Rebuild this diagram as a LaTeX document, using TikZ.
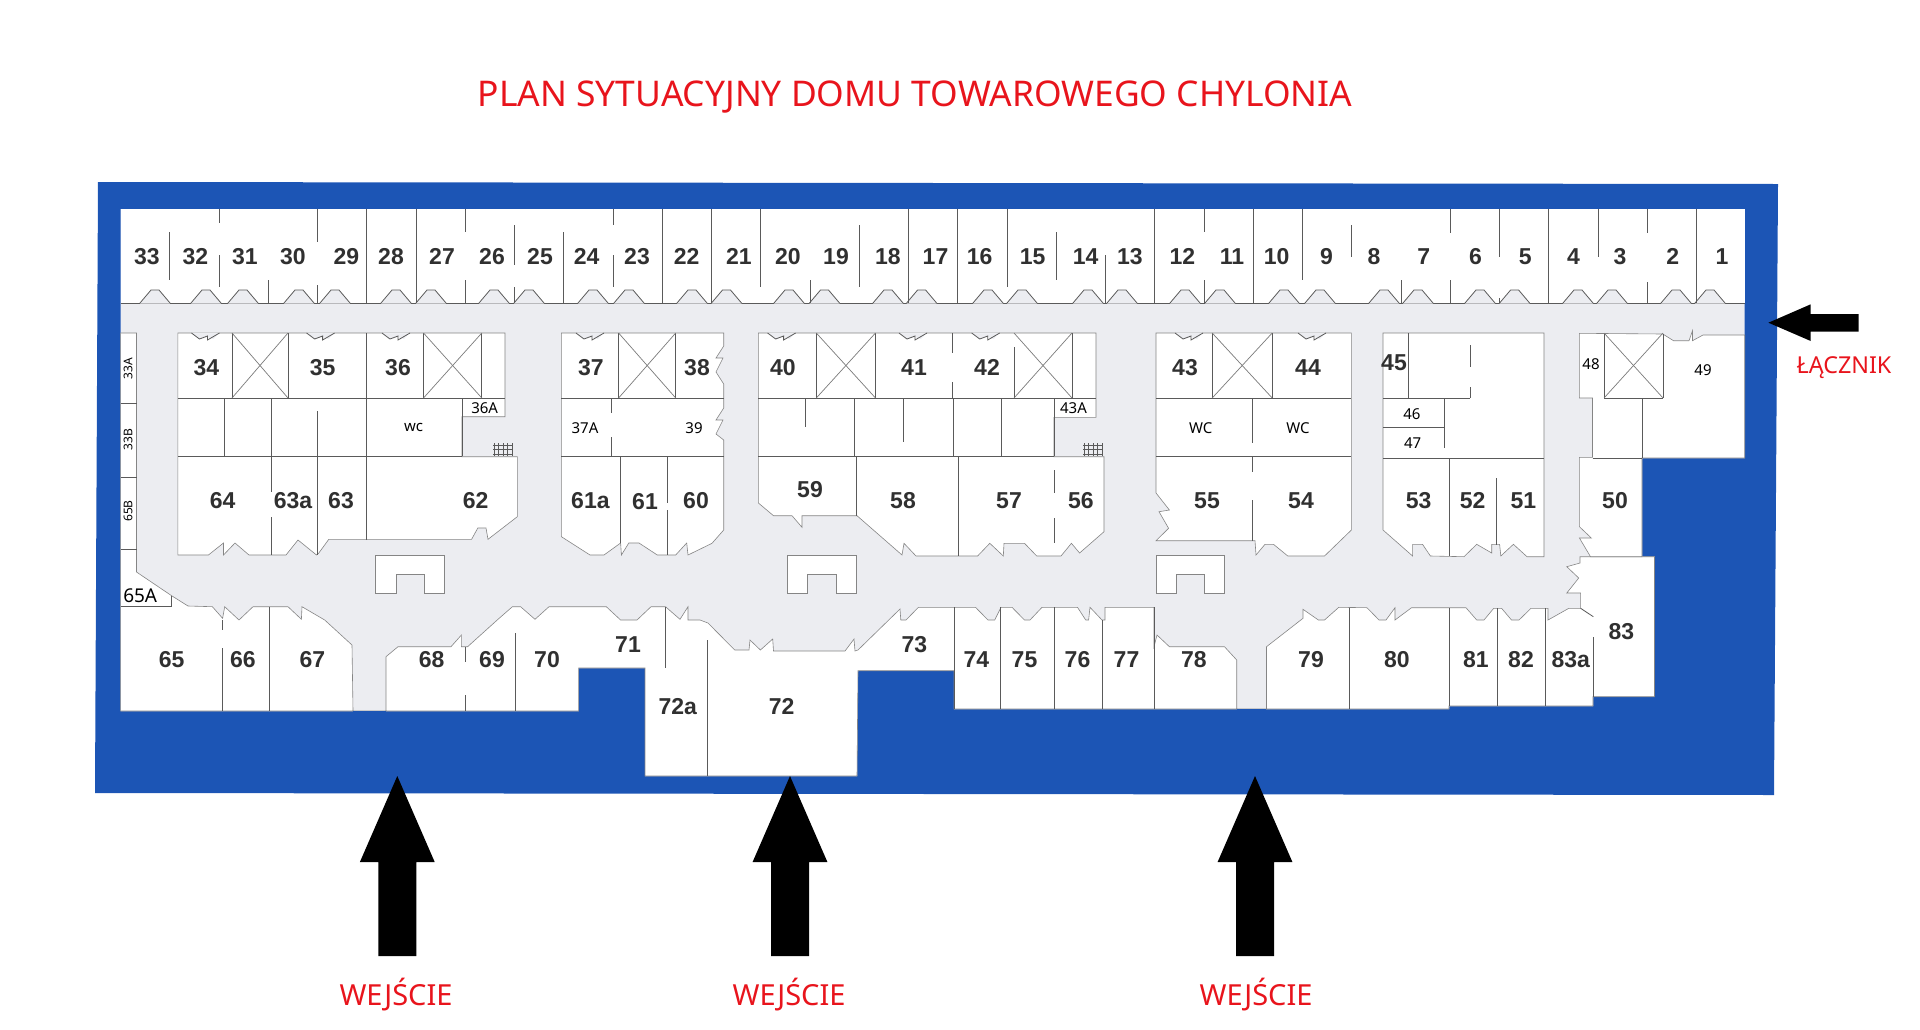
\documentclass[tikz,border=0pt]{standalone}
\usepackage{fontspec}
\setmainfont{Noto Sans}
\newfontfamily\numfont{Liberation Sans}[BoldFont={Liberation Sans Bold}]
\definecolor{bluewall}{HTML}{1C55B5}
\definecolor{corridor}{HTML}{ECEDF1}
\definecolor{wallgrey}{HTML}{5A5A5A}
\definecolor{edgegrey}{HTML}{858585}
\definecolor{numgrey}{HTML}{303030}
\definecolor{redlabel}{HTML}{E8141C}
\tikzset{
    room/.style={fill=white,draw=edgegrey,line width=0.6pt},
    wall/.style={draw=wallgrey,line width=0.8pt},
    crossline/.style={draw=wallgrey!80,line width=0.7pt},
    roomnum/.style={font=\numfont\bfseries\fontsize{23}{23}\selectfont,text=numgrey,inner sep=0pt},
    smalllabel/.style={font=\fontsize{15}{15}\selectfont,text=black,inner sep=0pt},
    sidelabel/.style={font=\fontsize{12}{12}\selectfont,text=black,inner sep=0pt,rotate=90},
    redtext/.style={font=\fontsize{29}{29}\selectfont,text=redlabel,inner sep=0pt},
    blackarrow/.style={fill=black}
}
\begin{document}
\begin{tikzpicture}[x=1pt,y=-1pt]
    \useasboundingbox (0,0) rectangle (1920,1029);

    % outer band and floor
    \fill[bluewall] (98,182) -- (1778,184) -- (1774,795) -- (95,793) -- cycle;
    \fill[corridor] (120.6,209) -- (1744.7,209) -- (1744.7,458) -- (1642,458) -- (1642,556.7) -- (1654.5,556.7) -- (1654.5,696.7) -- (1593,696.7) -- (1593,706) -- (1449,706) -- (1449,709) -- (954,709) -- (954,670.7) -- (858,670.7) -- (857,776) -- (645,776) -- (645,668) -- (578.6,668) -- (578.6,711) -- (120.6,711) -- cycle;

    % top row of shops
    \fill[white] (120.6,209) rectangle (1744.7,303);
    \draw[wall] (120.6,303) -- (1744.7,303);
    \foreach \bx in {155,206,243,299,335,396,431,494,529,593,629,692,726.5,789,824.5,888,921.6,988,1022,1088,1122,1185,1220,1284,1320,1384,1418,1480,1514.6,1578,1612,1676,1710} {
        \fill[corridor] (\bx-15,303.5) -- (\bx-4,290) -- (\bx+4,290) -- (\bx+15,303.5) -- cycle;
        \draw[wall] (\bx-15,303) -- (\bx-4,290) -- (\bx+4,290) -- (\bx+15,303);
    }
    \foreach \k/\ya/\yb in {1/232/280,2/209/223,2/255/287,3/280/303,4/209/242,4/285/303,5/209/303,6/209/303,7/209/232,7/280/303,8/225/265,8/287/303,9/232/303,10/209/225,10/255/287,11/209/303,12/209/303,13/209/287,14/280/303,15/225/287,16/209/303,17/209/303,18/209/287,19/232/280,20/255/303,21/209/303,22/209/232,22/280/303,23/209/303,24/209/280,25/225/257,26/280/303,27/209/233,27/280/303,28/209/257,28/298/303,29/209/303,30/209/257,31/209/233,31/282/303,32/209/303} {
        \draw[wall] ({120.6+49.25*\k},\ya) -- ({120.6+49.25*\k},\yb);
    }

    % bottom row, with the left strip
    \path[room] (120.6,711) -- (120.6,333) -- (136.5,333) -- (136.5,572) -- (171.6,595.7) -- (188,606) -- (212.4,606.7) -- (222.6,618.3) -- (224.7,606.7) -- (239,620) -- (253,606.7) -- (288,606.7) -- (301.4,619.3) -- (302,606.7) -- (324.7,620) -- (352,645) -- (353,711) -- (386,711) -- (386,656.7) -- (398,646.7) -- (451,646.7) -- (461.4,635) -- (461.4,646.7) -- (467.6,646.7) -- (498,619.3) -- (512.4,606.7) -- (520.6,606.7) -- (535,619.3) -- (549,606.7) -- (606.3,606.7) -- (620.6,620) -- (637,620) -- (651,606.7) -- (665.5,606.7) -- (680,619.3) -- (688,606.7) -- (688,620) -- (700,620) -- (708,623) -- (734.7,650) -- (749,650) -- (750,640) -- (760.4,650) -- (772.7,639) -- (773.5,651) -- (845,651) -- (854,639) -- (855,651) -- (858,650) -- (900,609) -- (900.8,620) -- (906,620) -- (918.4,607.3) -- (975.5,607.3) -- (988,620) -- (994.7,620) -- (1001,607.3) -- (1012,607.3) -- (1024.5,620) -- (1030,620) -- (1042,607.3) -- (1077.5,607.3) -- (1085.7,620) -- (1088.6,620) -- (1090,607.3) -- (1102,620) -- (1105,620) -- (1105,607.3) -- (1154,607.3) -- (1154,646.7) -- (1157,635) -- (1169.4,646.7) -- (1224.5,646.7) -- (1236.7,660) -- (1236.7,709) -- (1266.5,709) -- (1266.5,646.7) -- (1303,618.3) -- (1303,609.3) -- (1318.4,620) -- (1324.5,620) -- (1338.8,607.3) -- (1367,607.7) -- (1379,620) -- (1386,620) -- (1395,607.7) -- (1395,620) -- (1411.5,607.7) -- (1466,607.7) -- (1476.7,620) -- (1484,620) -- (1493.7,608.3) -- (1501.6,608.3) -- (1511.5,620) -- (1519,620) -- (1531,608.3) -- (1548,608.3) -- (1548,620) -- (1568.8,608.3) -- (1580.6,608.3) -- (1580.6,593) -- (1566.8,593) -- (1578.7,578) -- (1566.8,566.7) -- (1580,563) -- (1580,556.7) -- (1654.5,556.7) -- (1654.5,696.7) -- (1593,696.7) -- (1593,706) -- (1449,706) -- (1449,709) -- (954,709) -- (954,670.7) -- (858,670.7) -- (857,776) -- (645,776) -- (645,668) -- (578.6,668) -- (578.6,711) -- cycle;
    \draw[bluewall,line width=1pt] (353.4,711.5) -- (385.6,711.5);
    \draw[bluewall,line width=1pt] (1237.1,709.5) -- (1266.1,709.5);

    % blocks between the corridors
    \path[room] (177.8,333) -- (505,333) -- (505,416.7) -- (462,416.7) -- (462,456.7) -- (517.3,456.7) -- (517.3,516.7) -- (488,539.3) -- (486,528) -- (477.8,528) -- (471.6,539.3) -- (328.8,539.3) -- (318.6,553.3) -- (316.5,555) -- (298,540) -- (286,555) -- (249,555) -- (235,543) -- (223.5,555) -- (223.5,543) -- (208.4,555) -- (177.8,555) -- cycle;
    \path[room] (561.4,333) -- (723.7,333) -- (723.7,346) -- (716,358) -- (723,358) -- (716,372) -- (723.7,384) -- (723.7,408) -- (716,420) -- (723,420) -- (716,434) -- (723.7,440) -- (723.7,530) -- (712,543.3) -- (688,555) -- (686.7,543) -- (675.7,555) -- (657.3,555) -- (639,543) -- (628.8,543) -- (621.4,555) -- (620.6,543) -- (604,555) -- (590,555) -- (561.4,536.7) -- cycle;
    \path[room] (758.4,333) -- (1096,333) -- (1096,417.3) -- (1054,417.3) -- (1054,456.7) -- (1104,456.7) -- (1104,531.7) -- (1079.6,553) -- (1071.4,543.3) -- (1061,556) -- (1036.7,556) -- (1024.5,543.3) -- (1004,543.3) -- (1003.3,556) -- (989.8,543.3) -- (977.6,556) -- (916,556) -- (904,543.3) -- (902,555) -- (857,515.7) -- (802,515.7) -- (802,527.3) -- (792,515.7) -- (773.5,515.7) -- (758.4,503) -- cycle;
    \path[room] (1156,333) -- (1351.4,333) -- (1351.4,530) -- (1324.5,556) -- (1287.8,556) -- (1273.5,544.3) -- (1265,544.3) -- (1256,555) -- (1255,540.7) -- (1156,540.7) -- (1168.6,528.3) -- (1159,511.7) -- (1169.4,510) -- (1156,493) -- cycle;
    \path[room] (1383,333) -- (1544,333) -- (1544,556.7) -- (1527,556.7) -- (1513.4,544.3) -- (1500.8,556) -- (1499.6,544.3) -- (1491.7,544.3) -- (1491.7,553) -- (1476.7,544.3) -- (1464,556.7) -- (1430.4,556) -- (1422.5,544.3) -- (1412.6,544.3) -- (1412.6,556) -- (1383,530) -- cycle;
    \path[room] (1579.4,333.3) -- (1662.8,334) -- (1673.5,340.7) -- (1689,340.7) -- (1692.5,330.7) -- (1692.5,340.7) -- (1703,335) -- (1744.7,335) -- (1744.7,458) -- (1642,458) -- (1642,556.7) -- (1590.5,556.7) -- (1579.4,538) -- (1591.3,538) -- (1579.4,526.7) -- (1579.4,457.3) -- (1592.5,457.3) -- (1592.5,398) -- (1579.4,398) -- cycle;

    % kiosks
    \foreach \xa/\xb/\xc/\xd in {374.9/396.1/423.9/444.3,787/807.3/836/856.3,1156/1176.3/1204/1224.5} {
        \path[room] (\xa,555.5) -- (\xd,555.5) -- (\xd,593) -- (\xc,593) -- (\xc,574.5) -- (\xb,574.5) -- (\xb,593) -- (\xa,593) -- cycle;
    }

    % small door dents on the block tops
    \foreach \dx in {205.5,320.6,396,590,781.6,913,985.7,1189,1312} {
        \fill[corridor] (\dx-14,332.5) -- (\dx-6,339) -- (\dx+2,337) -- (\dx+8,339) -- (\dx+14,332.5) -- cycle;
        \draw[wall] (\dx-14,333) -- (\dx-6,339) -- (\dx+2,336) -- (\dx+2,340) -- (\dx+14,333);
    }

    % walls
    \foreach \xw/\ya/\yb in {222.2/620/630,222.2/648/711,269.6/607/711,465.5/647/662,465.5/695/711,515.7/633/711,665.5/607/668,707.5/640/776,954/607/709,1000.8/607/709,1053.9/607/709,1102/620/709,1153.9/607/709,1349.4/608/709,1449/608/706,1497.6/608/706,1545/608/706,1593.3/637/697,
        232/333/398,288/333/398,366.3/333/456,423.5/333/398,481.8/333/398,223.9/398/456,271/398/456,317.8/411/456,462/398/456,271/457/492,271/517/555,317.8/457/555,366.3/457/540,
        618.6/333/398,675.7/333/398,611.6/398/413,611.6/437/456,620.6/457/543,667.6/457/503,667.6/510/555,
        816.3/333/398,875.5/333/398,952/333/353,952/382/398,1014/347/398,1072/333/398,805/398/427,854/398/456,903/398/442,953/398/456,1001/398/456,1054/398/456,856/457/516,958/457/556,1054/470/493,1054/518/543,
        1212.2/333/398,1272.2/333/398,1252/398/443,1252/457/472,1252/500/541,
        1408.7/333/398,1470/345/367,1470/387/398,1444.3/398/448,1449.4/458/556,1496.8/478/545,
        1604/334/398,1663/334/398,1642/398/458} {
        \draw[wall] (\xw,\ya) -- (\xw,\yb);
    }
    \foreach \yw/\xa/\xb in {403/120.6/136.5,477/120.6/136.5,549/120.6/136.5,606.7/120.6/171.6,398/177.8/505,456.7/177.8/462,398/561.4/723.7,456.7/561.4/723.7,398/758.4/1096,456.7/758.4/1054,398/1156/1351.4,456.7/1156/1351.4,398/1383/1470,427/1383/1444.3,458/1383/1544,398/1604/1663,458/1592.5/1642} {
        \draw[wall] (\xa,\yw) -- (\xb,\yw);
    }
    \draw[wall] (171.6,595.7) -- (171.6,606.7);
    \draw[wall] (1580.6,608.3) -- (1593.3,616.7);

    % crossed stair wells
    \foreach \xa/\xb in {232/288,423.5/481.8,618.6/675.7,816.3/875.5,1014/1072,1212.2/1272.2,1604/1663} {
        \draw[crossline] (\xa,333) -- (\xb,398);
        \draw[crossline] (\xb,333) -- (\xa,398);
    }

    % little grates
    \foreach \gx in {494,1084} {
        \foreach \i in {0,...,4} {
            \draw[wall,line width=0.4pt] (\gx+\i*4.5,443) -- (\gx+\i*4.5,456);
        }
        \foreach \i in {0,1,2} {
            \draw[wall,line width=0.4pt] (\gx-1,445+\i*4.5) -- (\gx+19,445+\i*4.5);
        }
    }

    % room numbers
    \begin{scope}[every node/.style={roomnum}]
        \foreach \num/\nx in {33/147,32/195.3,31/245,30/293,29/346.3,28/391,27/442,26/492,25/540,24/586.7,23/637,22/686.7,21/738.8,20/787.8,19/836,18/887.8,17/935.5,16/979.6,15/1032.7,14/1085.7,13/1129.8,12/1182.4,11/1232,10/1276.7,9/1326.5,8/1374,7/1423.7,6/1475.5,5/1525.3,4/1573.5,3/1620,2/1672.7,1/1722} {
            \node (r\num) at (\nx,256.5) {\num};
        }
        \foreach \num/\nx in {34/206.3,35/322.7,36/398,37/590.8,38/697,40/782.9,41/914,42/987,43/1185,44/1308} {
            \node (r\num) at (\nx,367.3) {\num};
        }
        \node (r45) at (1394,363) {45};
        \foreach \num/\nx in {64/222.7,63a/293,63/341,62/475.7,61a/590.4,60/696,58/903,57/1009,56/1080.8,55/1207,54/1301,53/1418.6,52/1472.7,51/1523.3,50/1615} {
            \node (r\num) at (\nx,500.3) {\num};
        }
        \node (r61) at (645,501.7) {61};
        \node (r59) at (810,489.3) {59};
        \foreach \num/\nx in {65/171.6,66/243,67/312.4,68/431.6,69/492,70/547,74/976.3,75/1024.5,76/1077.5,77/1126.5,78/1193.9,79/1311,80/1396.8,81/1475.9,82/1521,83a/1570.8} {
            \node (r\num) at (\nx,659.5) {\num};
        }
        \node (r71) at (628,644.3) {71};
        \node (r73) at (914.3,644.3) {73};
        \node (r72a) at (677.8,706.7) {72a};
        \node (r72) at (781.6,706.7) {72};
        \node (r83) at (1621.3,631.7) {83};
    \end{scope}

    % plain labels
    \node[smalllabel] (r36A) at (484.7,407.7) {36A};
    \node[smalllabel] (wc1) at (413.7,427.7) {wc};
    \node[smalllabel] (r37A) at (585,427.7) {37A};
    \node[smalllabel] (r39) at (694,428.3) {39};
    \node[smalllabel] (r43A) at (1073.5,408.3) {43A};
    \node[smalllabel] (wc2) at (1200.8,427.7) {WC};
    \node[smalllabel] (wc3) at (1298,427.7) {WC};
    \node[smalllabel] (r46) at (1411.9,414) {46};
    \node[smalllabel] (r47) at (1412.6,443.3) {47};
    \node[smalllabel] (r48) at (1591,364.3) {48};
    \node[smalllabel] (r49) at (1703,370) {49};
    \node[sidelabel] (r33A) at (128,368.3) {33A};
    \node[sidelabel] (r33B) at (128,439.3) {33B};
    \node[sidelabel] (r65B) at (128,511) {65B};
    \node[smalllabel,font=\fontsize{19}{19}\selectfont] (r65A) at (140.2,595.7) {65A};

    % entrance arrows
    \foreach \ax in {397.3,790,1255} {
        \fill[blackarrow] (\ax,776) -- (\ax+37.4,862) -- (\ax+19,862) -- (\ax+19,956) -- (\ax-19,956) -- (\ax-19,862) -- (\ax-37.4,862) -- cycle;
    }
    \fill[blackarrow] (1768.4,322.7) -- (1810.7,304.3) -- (1810.7,314) -- (1858.5,314) -- (1858.5,331.7) -- (1810.7,331.7) -- (1810.7,341) -- cycle;

    % red captions
    \node[redtext,font=\fontsize{35.4}{35.4}\selectfont] (title) at (915,97) {PLAN SYTUACYJNY DOMU TOWAROWEGO CHYLONIA};
    \node[redtext] (entry1) at (396,995) {WEJŚCIE};
    \node[redtext] (entry2) at (789,995) {WEJŚCIE};
    \node[redtext] (entry3) at (1256,995) {WEJŚCIE};
    \node[redtext,font=\fontsize{23.3}{23.3}\selectfont] (link) at (1844,368) {ŁĄCZNIK};
\end{tikzpicture}
\end{document}
